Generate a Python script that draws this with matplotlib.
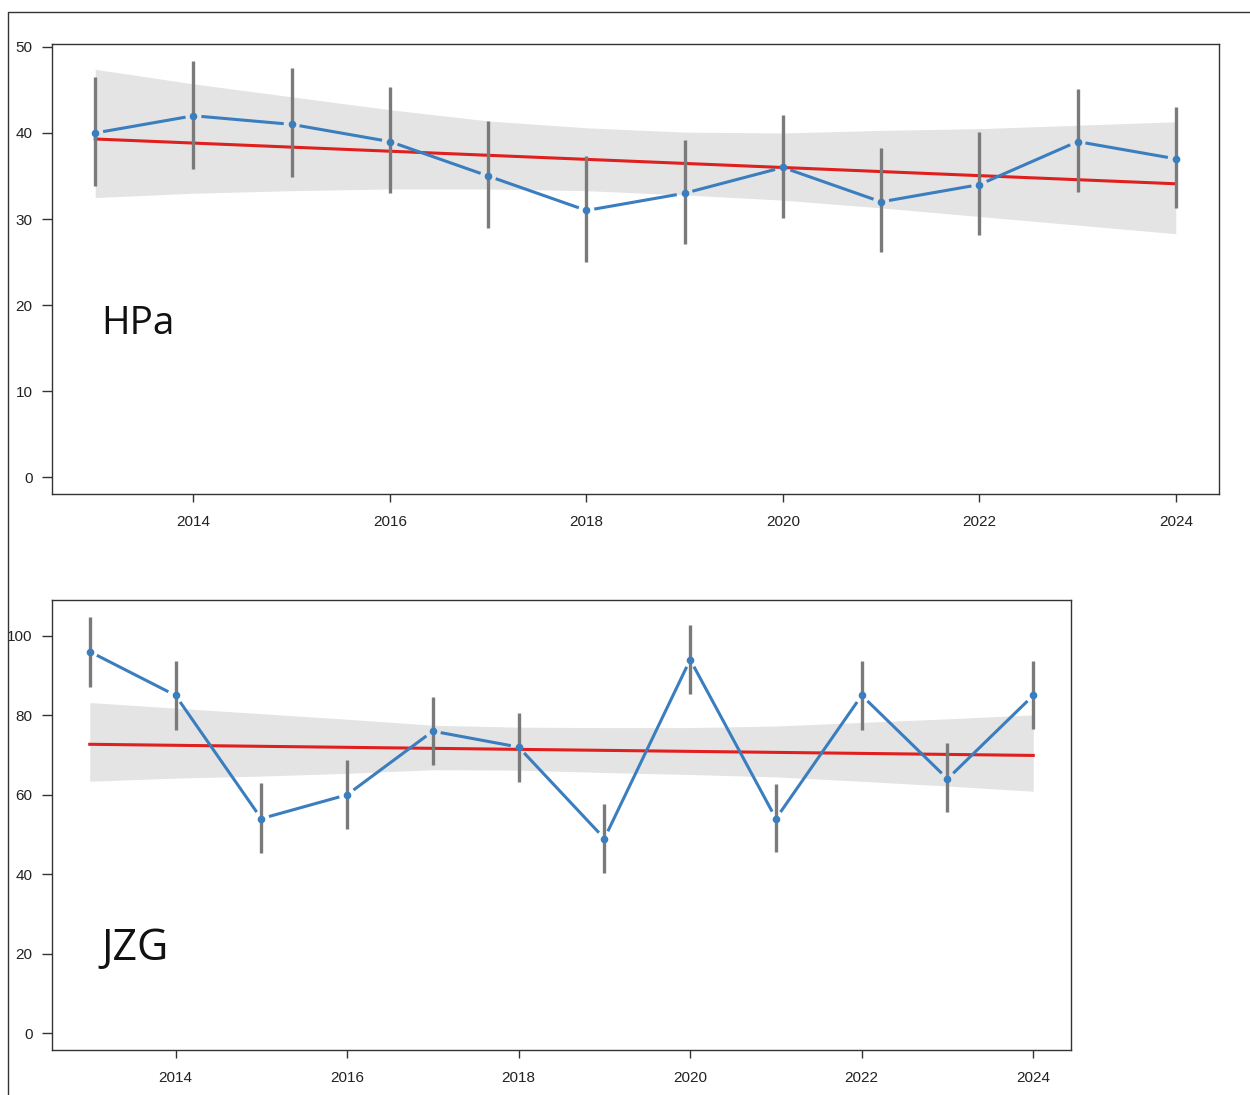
import numpy as np
import matplotlib
matplotlib.use("Agg")
import matplotlib.pyplot as plt
from matplotlib.lines import Line2D

# ── Data ──────────────────────────────────────────────────────────────────────

years = np.arange(2013, 2025)

hpa_vals = [40, 42, 41, 39, 35, 31, 33, 36, 32, 34, 39, 37]
hpa_lo   = [33.8, 35.8, 34.9, 33.0, 29.0, 25.0, 27.1, 30.1, 26.2, 28.2, 33.2, 31.3]
hpa_hi   = [46.5, 48.4, 47.5, 45.3, 41.4, 37.3, 39.2, 42.1, 38.2, 40.1, 45.1, 43.0]
hpa_band_lo = [32.5, 33.0, 33.3, 33.5, 33.5, 33.3, 32.8, 32.2, 31.3, 30.3, 29.3, 28.3]
hpa_band_hi = [47.4, 45.7, 44.2, 42.7, 41.4, 40.6, 40.1, 40.0, 40.3, 40.5, 40.9, 41.3]
hpa_trend   = [39.3, 34.1]          # fitted line at first / last year

jzg_vals = [96, 85, 54, 60, 76, 72, 49, 94, 54, 85, 64, 85]
jzg_lo   = [87.2, 76.4, 45.3, 51.5, 67.5, 63.2, 40.4, 85.4, 45.5, 76.4, 55.6, 76.6]
jzg_hi   = [104.8, 93.7, 62.9, 68.8, 84.7, 80.6, 57.6, 102.6, 62.7, 93.7, 72.9, 93.6]
jzg_band_lo = [63.4, 64.2, 64.7, 65.4, 66.3, 66.2, 65.6, 65.1, 64.5, 63.4, 62.2, 60.9]
jzg_band_hi = [83.2, 81.8, 80.4, 79.0, 77.5, 77.0, 76.9, 76.9, 77.3, 78.2, 79.1, 80.1]
jzg_trend   = [72.7, 69.9]

# ── Style ─────────────────────────────────────────────────────────────────────

plt.rcParams.update({
    "font.family": ["Liberation Sans", "DejaVu Sans"],
    "font.size": 11,
    "axes.linewidth": 1.0,
    "axes.edgecolor": "#333333",
    "xtick.color": "#333333",
    "ytick.color": "#333333",
    "xtick.labelcolor": "#222222",
    "ytick.labelcolor": "#222222",
})

COLOR_BLUE = "#3a7ebf"
COLOR_RED  = "#e01f1f"
COLOR_BAR  = "#7a7a7a"
COLOR_BAND = "#e4e4e4"


def gapped_line(ax, x, y, gap_px, **kw):
    """R type='b': segments stop short of each point."""
    pts = ax.transData.transform(np.column_stack([x, y]))
    inv = ax.transData.inverted()
    for p0, p1 in zip(pts[:-1], pts[1:]):
        d = p1 - p0
        L = np.hypot(*d)
        if L <= 2 * gap_px:
            continue
        u = d / L
        seg = inv.transform(np.array([p0 + u * gap_px, p1 - u * gap_px]))
        ax.plot(seg[:, 0], seg[:, 1], solid_capstyle="butt", **kw)


def panel(ax, vals, lo, hi, band_lo, band_hi, trend, yticks, label, label_xy, label_size):
    ymax = max(hi)
    pad_y = 0.04 * ymax
    ax.set_xlim(years[0] - 0.04 * (years[-1] - years[0]),
                years[-1] + 0.04 * (years[-1] - years[0]))
    ax.set_ylim(-pad_y, ymax + pad_y)

    ax.fill_between(years, band_lo, band_hi, color=COLOR_BAND, lw=0, zorder=1)
    ax.plot([years[0], years[-1]], trend, color=COLOR_RED, lw=2.2, zorder=2)
    ax.vlines(years, lo, hi, color=COLOR_BAR, lw=2.4, zorder=3)
    gapped_line(ax, years, vals, 8, color=COLOR_BLUE, lw=2.2, zorder=4)
    ax.plot(years, vals, "o", color=COLOR_BLUE, ms=5.5, mew=0, zorder=5)

    ax.set_xticks(np.arange(2014, 2025, 2))
    ax.set_yticks(yticks)
    ax.tick_params(axis="x", length=6, width=1, pad=9)
    ax.tick_params(axis="y", length=7, width=1, pad=7)

    ax.text(*label_xy, label, transform=ax.transAxes, fontsize=label_size,
            family=["Open Sans", "DejaVu Sans"], color="#111111",
            ha="left", va="baseline")


fig = plt.figure(figsize=(12.5, 10.95), dpi=100)

ax1 = fig.add_axes([52 / 1250, 1 - 494 / 1095, 1167 / 1250, 450 / 1095])
ax2 = fig.add_axes([52 / 1250, 1 - 1050 / 1095, 1019 / 1250, 450 / 1095])

panel(ax1, hpa_vals, hpa_lo, hpa_hi, hpa_band_lo, hpa_band_hi, hpa_trend,
      np.arange(0, 51, 10), "HPa", (0.042, 0.355), 28)
panel(ax2, jzg_vals, jzg_lo, jzg_hi, jzg_band_lo, jzg_band_hi, jzg_trend,
      np.arange(0, 101, 20), "JZG", (0.049, 0.2), 31)

# outer frame (only top and left edges are visible in the reference)
fig.add_artist(Line2D([8 / 1250, 8 / 1250, 1.0], [0.0, 1 - 12 / 1095, 1 - 12 / 1095],
                      transform=fig.transFigure, color="#333333", lw=1.0))

fig.savefig("out.png", dpi=100)
